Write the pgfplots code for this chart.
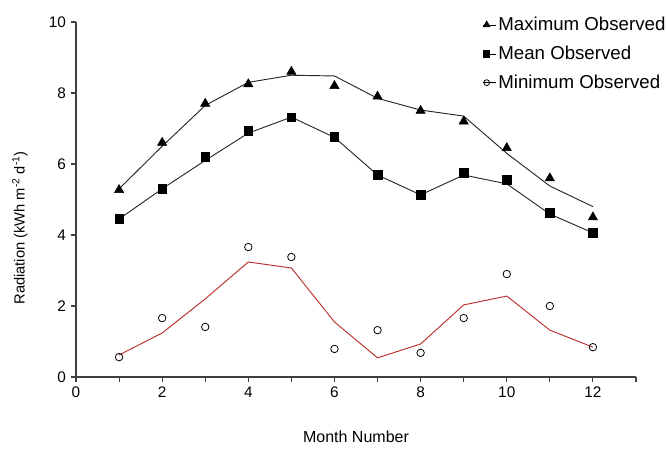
\documentclass[border=0pt]{standalone}
\usepackage{pgfplots}
\pgfplotsset{compat=1.18}
\usepackage{fontspec}
\setmainfont{Liberation Sans}
\definecolor{axgray}{RGB}{64,64,64}
\definecolor{linegray}{RGB}{40,40,40}
\definecolor{minred}{RGB}{185,45,45}
\begin{document}
\begin{tikzpicture}
\begin{axis}[
  scale only axis,
  width=420pt, height=266.25pt,
  xmin=0, xmax=13, ymin=0, ymax=10,
  axis x line*=bottom, axis y line*=left,
  axis line style={axgray, line width=0.8pt},
  xtick={0,2,...,12}, minor xtick={1,3,...,13},
  ytick={0,2,...,10},
  tick align=outside,
  major tick length=4pt, minor tick length=4pt,
  tick style={axgray, line width=0.8pt},
  every tick label/.style={font=\fontsize{11.5}{13}\selectfont},
  /pgf/number format/assume math mode=true,
  xlabel={Month Number},
  ylabel={Radiation (kWh m\textsuperscript{-2} d\textsuperscript{-1})},
  every axis x label/.style={at={(axis description cs:0.5,-0.169)},anchor=center,font=\fontsize{12}{14}\selectfont},
  every axis y label/.style={at={(axis description cs:-0.1,0.42)},rotate=90,anchor=center,font=\fontsize{11}{13}\selectfont},
  legend style={at={(axis description cs:0.725,1.02)}, anchor=north west, draw=none, fill=none,
    font=\fontsize{14}{16}\selectfont, row sep=7pt, inner sep=0pt,
    nodes={inner sep=1.5pt}},
  legend cell align=left,
  legend image code/.code={\draw[#1] plot coordinates {(0pt,0pt)}; \path (-3pt,0pt) -- (7pt,0pt);},
  clip=false,
]
% model lines
\addplot[linegray, line width=0.7pt, forget plot] coordinates {
(1,5.3) (2,6.5) (3,7.65) (4,8.3) (5,8.5) (6,8.48) (7,7.85) (8,7.52) (9,7.35) (10,6.3) (11,5.38) (12,4.8)};
\addplot[linegray, line width=0.7pt, forget plot] coordinates {
(1,4.45) (2,5.3) (3,6.1) (4,6.87) (5,7.32) (6,6.75) (7,5.69) (8,5.13) (9,5.69) (10,5.44) (11,4.59) (12,4.06)};
\addplot[minred, line width=0.7pt, forget plot] coordinates {
(1,0.62) (2,1.24) (3,2.2) (4,3.24) (5,3.07) (6,1.55) (7,0.54) (8,0.93) (9,2.03) (10,2.28) (11,1.32) (12,0.84)};
% observed
\addplot[only marks, mark=triangle*, mark size=4pt, black, forget plot] coordinates {
(1,5.27) (2,6.6) (3,7.7) (4,8.25) (5,8.6) (6,8.2) (7,7.9) (8,7.5) (9,7.2) (10,6.45) (11,5.6) (12,4.5)};
\addplot[only marks, mark=square*, mark size=3.2pt, black, forget plot] coordinates {
(1,4.45) (2,5.3) (3,6.2) (4,6.93) (5,7.32) (6,6.77) (7,5.69) (8,5.13) (9,5.75) (10,5.55) (11,4.62) (12,4.06)};
\addplot[only marks, mark=o, mark size=2.8pt, black, line width=0.6pt, forget plot] coordinates {
(1,0.56) (2,1.66) (3,1.41) (4,3.66) (5,3.38) (6,0.79) (7,1.32) (8,0.68) (9,1.66) (10,2.9) (11,2.0) (12,0.84)};
\addlegendimage{only marks, mark=triangle*, mark size=3pt, black}
\addlegendentry{Maximum Observed}
\addlegendimage{only marks, mark=square*, mark size=2.3pt, black}
\addlegendentry{Mean Observed}
\addlegendimage{only marks, mark=o, mark size=2.2pt, black, line width=0.6pt}
\addlegendentry{Minimum Observed}
\coordinate (bl) at (rel axis cs:0,0);
\coordinate (tr) at (rel axis cs:1,1);
\end{axis}
\pgfresetboundingbox
\path ([shift={(-57pt,-54pt)}]bl) rectangle ([shift={(23.25pt,16.5pt)}]tr);
\end{tikzpicture}
\end{document}
